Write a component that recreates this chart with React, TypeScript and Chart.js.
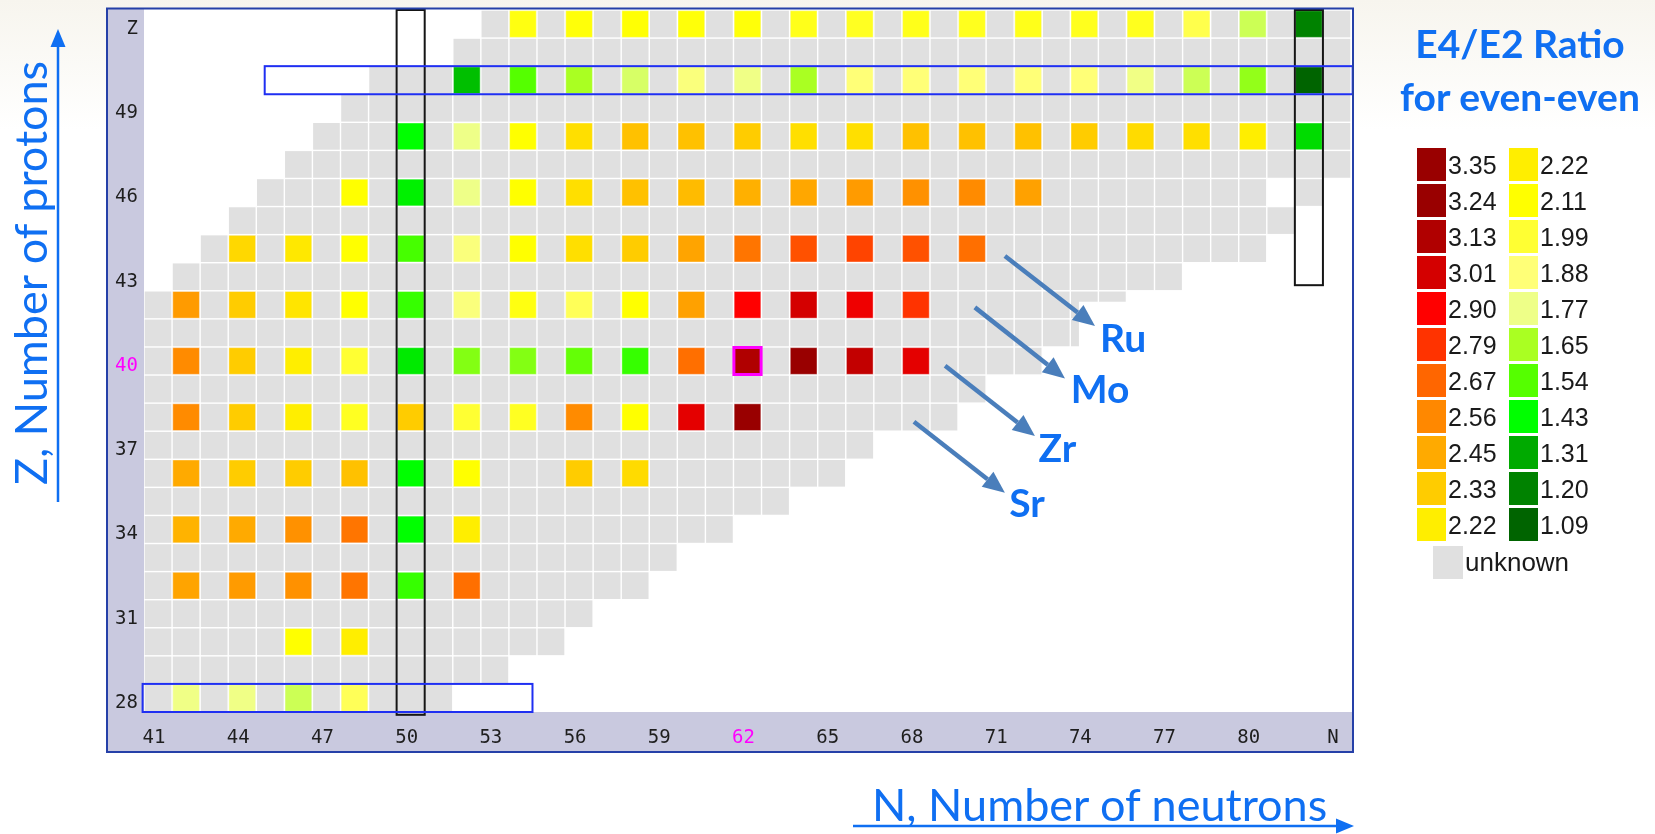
import React, { useEffect, useRef } from 'react';
import { Chart, registerables } from 'chart.js';

Chart.register(...registerables);

// ---------- axes ----------
const N_TICKS = [41, 44, 47, 50, 53, 56, 59, 62, 65, 68, 71, 74, 77, 80, 83];
const N_TICK_LABELS = ['41', '44', '47', '50', '53', '56', '59', '62', '65', '68', '71', '74', '77', '80', 'N'];
const Z_TICKS = [28, 31, 34, 37, 40, 43, 46, 49, 52];
const Z_TICK_LABELS = ['28', '31', '34', '37', '40', '43', '46', '49', 'Z'];
const N_MIN = 40.5;
const N_MAX = 83.5;
const Z_MIN = 27.5;
const Z_MAX = 52.5;
const MARKED_N = 62;
const MARKED_Z = 40;

// ---------- known nuclides: extent of each proton row ----------
const ROW_Z = [52, 51, 50, 49, 48, 47, 46, 45, 44, 43, 42, 41, 40, 39, 38, 37, 36, 35, 34, 33, 32, 31, 30, 29, 28];
const ROW_N_FIRST = [53, 52, 49, 48, 47, 46, 45, 44, 43, 42, 41, 41, 41, 41, 41, 41, 41, 41, 41, 41, 41, 41, 41, 41, 41];
const ROW_N_LAST = [83, 83, 83, 83, 83, 83, 80, 81, 80, 77, 75, 74, 72, 70, 69, 66, 65, 63, 61, 59, 58, 56, 55, 53, 51];
const EXTRA_CELL_N = [82];
const EXTRA_CELL_Z = [46];

// ---------- E4/E2 ratios of even-even nuclei ----------
const TE_N = [54, 56, 58, 60, 62, 64, 66, 68, 70, 72, 74, 76, 78, 80, 82];
const TE_R = [2.07, 2.09, 2.10, 2.09, 2.09, 2.05, 2.03, 2.05, 2.04, 2.05, 2.04, 2.04, 1.95, 1.71, 1.20];
const SN_N = [52, 54, 56, 58, 60, 62, 64, 66, 68, 70, 72, 74, 76, 78, 80, 82];
const SN_R = [1.34, 1.54, 1.65, 1.73, 1.85, 1.78, 1.65, 1.88, 1.88, 1.88, 1.88, 1.88, 1.79, 1.71, 1.62, 1.09];
const CD_N = [50, 52, 54, 56, 58, 60, 62, 64, 66, 68, 70, 72, 74, 76, 78, 80, 82];
const CD_R = [1.43, 1.77, 2.11, 2.27, 2.37, 2.37, 2.33, 2.27, 2.27, 2.37, 2.37, 2.37, 2.33, 2.28, 2.27, 2.22, 1.38];
const PD_N = [48, 50, 52, 54, 56, 58, 60, 62, 64, 66, 68, 70, 72];
const PD_R = [2.11, 1.41, 1.77, 2.11, 2.27, 2.37, 2.39, 2.43, 2.46, 2.50, 2.53, 2.55, 2.48];
const RU_N = [44, 46, 48, 50, 52, 54, 56, 58, 60, 62, 64, 66, 68, 70];
const RU_R = [2.29, 2.24, 2.11, 1.52, 1.85, 2.11, 2.27, 2.33, 2.47, 2.62, 2.72, 2.75, 2.72, 2.64];
const MO_N = [42, 44, 46, 48, 50, 52, 54, 56, 58, 60, 62, 64, 66, 68];
const MO_R = [2.50, 2.33, 2.25, 2.11, 1.50, 1.85, 2.07, 1.93, 2.11, 2.48, 2.90, 3.01, 2.94, 2.79];
const ZR_N = [42, 44, 46, 48, 50, 52, 54, 56, 58, 60, 62, 64, 66, 68];
const ZR_R = [2.55, 2.33, 2.22, 1.99, 1.40, 1.60, 1.60, 1.56, 1.50, 2.64, 3.13, 3.24, 3.07, 2.97];
const SR_N = [42, 44, 46, 48, 50, 52, 54, 56, 58, 60, 62];
const SR_R = [2.55, 2.33, 2.22, 2.03, 2.33, 1.99, 2.03, 2.55, 2.11, 2.97, 3.24];
const KR_N = [42, 44, 46, 48, 50, 52, 56, 58];
const KR_R = [2.45, 2.33, 2.33, 2.37, 1.43, 2.11, 2.33, 2.28];
const SE_N = [42, 44, 46, 48, 50, 52];
const SE_R = [2.42, 2.45, 2.53, 2.62, 1.43, 2.22];
const GE_N = [42, 44, 46, 48, 50, 52];
const GE_R = [2.47, 2.50, 2.53, 2.62, 1.50, 2.64];
const ZN_N = [46, 48];
const ZN_R = [2.11, 2.22];
const NI_N = [42, 44, 46, 48];
const NI_R = [1.78, 1.78, 1.71, 1.93];

const ELEMENT_Z = [52, 50, 48, 46, 44, 42, 40, 38, 36, 34, 32, 30, 28];
const ELEMENT_N = [TE_N, SN_N, CD_N, PD_N, RU_N, MO_N, ZR_N, SR_N, KR_N, SE_N, GE_N, ZN_N, NI_N];
const ELEMENT_R = [TE_R, SN_R, CD_R, PD_R, RU_R, MO_R, ZR_R, SR_R, KR_R, SE_R, GE_R, ZN_R, NI_R];

// ---------- colour scale / legend ----------
const SCALE_VALUES = [1.09, 1.20, 1.31, 1.43, 1.54, 1.65, 1.77, 1.88, 1.99, 2.11, 2.22, 2.33, 2.45, 2.56, 2.67, 2.79, 2.90, 3.01, 3.13, 3.24, 3.35];
const SCALE_COLORS = ['#006400', '#008200', '#00aa00', '#00ff00', '#55ff00', '#aaff22', '#eeff88', '#ffff77', '#ffff33', '#ffff00', '#ffee00', '#ffcc00', '#ffaa00', '#ff8800', '#ff6600', '#ff3300', '#ff0000', '#d40000', '#b00000', '#990000', '#990000'];
const LEGEND_LEFT = [3.35, 3.24, 3.13, 3.01, 2.90, 2.79, 2.67, 2.56, 2.45, 2.33, 2.22];
const LEGEND_RIGHT = [2.22, 2.11, 1.99, 1.88, 1.77, 1.65, 1.54, 1.43, 1.31, 1.20, 1.09];

// ---------- shell closures ----------
const MAGIC_N = [50, 82];
const MAGIC_N_ZTOP = [52.5, 52.5];
const MAGIC_N_ZBOTTOM = [27.4, 42.7];
const MAGIC_Z = [50, 28];
const MAGIC_Z_NFROM = [44.8, 40.45];
const MAGIC_Z_NTO = [83.56, 54.34];

// ---------- isotope-chain annotations ----------
const CHAIN_LABELS = ['Ru', 'Mo', 'Zr', 'Sr'];
const ARROW_FROM_N = [71.17, 70.10, 69.04, 67.93];
const ARROW_FROM_Z = [43.74, 41.91, 39.83, 37.84];
const ARROW_TO_N = [74.38, 73.31, 72.24, 71.17];
const ARROW_TO_Z = [41.25, 39.38, 37.33, 35.31];
const LABEL_N = [75.38, 74.56, 73.04, 71.96];
const LABEL_Z = [40.33, 38.49, 36.41, 34.44];

const TEXT_BLUE = '#0f6ff2';
const ARROW_BLUE = '#4a7ebb';
const LAVENDER = '#c9c9df';
const CELL_GRAY = '#e0e0e0';

function hexRgb(h: string) {
  return [parseInt(h.slice(1, 3), 16), parseInt(h.slice(3, 5), 16), parseInt(h.slice(5, 7), 16)];
}
function ratioColor(r: number) {
  const v = SCALE_VALUES;
  if (r <= v[0]) return SCALE_COLORS[0];
  for (let i = 1; i < v.length; i++) {
    if (r <= v[i]) {
      const t = (r - v[i - 1]) / (v[i] - v[i - 1]);
      const a = hexRgb(SCALE_COLORS[i - 1]);
      const b = hexRgb(SCALE_COLORS[i]);
      const c = a.map((x, k) => Math.round(x + (b[k] - x) * t));
      return `rgb(${c[0]},${c[1]},${c[2]})`;
    }
  }
  return SCALE_COLORS[SCALE_COLORS.length - 1];
}

export default function App() {
  const canvasRef = useRef<HTMLCanvasElement | null>(null);

  useEffect(() => {
    const canvas = canvasRef.current;
    if (!canvas) return;

    const grayPts: { x: number; y: number }[] = [];
    ROW_Z.forEach((z, i) => {
      for (let n = ROW_N_FIRST[i]; n <= ROW_N_LAST[i]; n++) grayPts.push({ x: n, y: z });
    });
    EXTRA_CELL_Z.forEach((z, i) => grayPts.push({ x: EXTRA_CELL_N[i], y: z }));

    const eePts: { x: number; y: number }[] = [];
    const eeColors: string[] = [];
    ELEMENT_Z.forEach((z, i) => {
      ELEMENT_N[i].forEach((n, j) => {
        eePts.push({ x: n, y: z });
        eeColors.push(ratioColor(ELEMENT_R[i][j]));
      });
    });

    const cellRadius = (frac: number) => (ctx: any) => {
      const sx = ctx.chart.scales.x;
      const p = Math.abs(sx.getPixelForValue(1) - sx.getPixelForValue(0));
      return (p * frac) / Math.SQRT2;
    };

    const framePlugin = {
      id: 'frame',
      beforeDraw(chart: any) {
        const { ctx, chartArea: a, scales } = chart;
        const x = scales.x;
        const y = scales.y;
        const L = y.left;
        const T = a.top - 1.5;
        const R = a.right + 2;
        const B = x.bottom;
        ctx.save();
        ctx.fillStyle = '#ffffff';
        ctx.fillRect(L, T, R - L, B - T);
        ctx.fillStyle = LAVENDER;
        ctx.fillRect(L, T, y.right - L, B - T);
        ctx.fillRect(L, x.top, R - L, B - x.top);
        ctx.restore();
      },
      afterDraw(chart: any) {
        const { ctx, chartArea: a, scales } = chart;
        const L = scales.y.left;
        const T = a.top - 1.5;
        const R = a.right + 2;
        const B = scales.x.bottom;
        ctx.save();
        ctx.strokeStyle = '#2540a8';
        ctx.lineWidth = 2;
        ctx.strokeRect(L, T, R - L, B - T);
        ctx.restore();
      },
    };

    const annotPlugin = {
      id: 'annot',
      afterDatasetsDraw(chart: any) {
        const { ctx, scales } = chart;
        const px = (n: number) => scales.x.getPixelForValue(n);
        const py = (z: number) => scales.y.getPixelForValue(z);
        ctx.save();
        ctx.lineWidth = 2;
        ctx.strokeStyle = '#151515';
        MAGIC_N.forEach((n, i) => {
          const l = px(n - 0.5);
          const r = px(n + 0.5);
          const t = py(MAGIC_N_ZTOP[i]);
          const b = py(MAGIC_N_ZBOTTOM[i]);
          ctx.strokeRect(l, t, r - l, b - t);
        });
        ctx.strokeStyle = '#1f2ff2';
        MAGIC_Z.forEach((z, i) => {
          const l = px(MAGIC_Z_NFROM[i]);
          const r = px(MAGIC_Z_NTO[i]);
          const t = py(z + 0.5);
          const b = py(z - 0.5);
          ctx.strokeRect(l, t, r - l, b - t);
        });

        ctx.font = 'bold 39px Lato';
        ctx.textAlign = 'center';
        ctx.textBaseline = 'alphabetic';
        // white label backgrounds
        CHAIN_LABELS.forEach((s, i) => {
          const cx = px(LABEL_N[i]);
          const by = py(LABEL_Z[i]);
          const m = ctx.measureText(s);
          const w = m.width;
          const asc = m.actualBoundingBoxAscent;
          ctx.fillStyle = '#ffffff';
          ctx.fillRect(cx - w / 2 - 21, by - asc - 22, w + 31, asc + 32);
        });
        // arrows
        ctx.strokeStyle = ARROW_BLUE;
        ctx.fillStyle = ARROW_BLUE;
        ctx.lineWidth = 4.5;
        CHAIN_LABELS.forEach((s, i) => {
          const x0 = px(ARROW_FROM_N[i]);
          const y0 = py(ARROW_FROM_Z[i]);
          const x1 = px(ARROW_TO_N[i]);
          const y1 = py(ARROW_TO_Z[i]);
          const ang = Math.atan2(y1 - y0, x1 - x0);
          const hl = 22;
          const hw = 9.5;
          const bx = x1 - hl * Math.cos(ang);
          const by = y1 - hl * Math.sin(ang);
          ctx.beginPath();
          ctx.moveTo(x0, y0);
          ctx.lineTo(bx, by);
          ctx.stroke();
          ctx.beginPath();
          ctx.moveTo(x1, y1);
          ctx.lineTo(bx + hw * Math.sin(ang), by - hw * Math.cos(ang));
          ctx.lineTo(bx - hw * Math.sin(ang), by + hw * Math.cos(ang));
          ctx.closePath();
          ctx.fill();
        });
        // labels
        ctx.fillStyle = TEXT_BLUE;
        CHAIN_LABELS.forEach((s, i) => {
          ctx.fillText(s, px(LABEL_N[i]), py(LABEL_Z[i]));
        });
        ctx.restore();
      },
    };

    const tickFont = { family: 'DejaVu Sans Mono', size: 19 };

    const chart = new Chart(canvas, {
      type: 'scatter',
      data: {
        datasets: [
          {
            label: 'unknown',
            data: grayPts,
            pointStyle: 'rect',
            pointRadius: cellRadius(0.95),
            pointBackgroundColor: CELL_GRAY,
            pointBorderWidth: 0,
            order: 3,
          } as any,
          {
            label: 'E4/E2',
            data: eePts,
            pointStyle: 'rect',
            pointRadius: cellRadius(0.95),
            pointBackgroundColor: eeColors,
            pointBorderColor: 'rgba(255,255,255,0.4)',
            pointBorderWidth: 1,
            order: 2,
          } as any,
          {
            label: 'marked',
            data: [{ x: MARKED_N, y: MARKED_Z }],
            pointStyle: 'rect',
            pointRadius: cellRadius(0.97),
            pointBackgroundColor: 'rgba(0,0,0,0)',
            pointBorderColor: '#ff00ff',
            pointBorderWidth: 3,
            order: 1,
          } as any,
        ],
      },
      options: {
        responsive: false,
        animation: false,
        devicePixelRatio: 1,
        events: [],
        layout: { padding: { left: 107, top: 10, right: 304, bottom: 82 } },
        plugins: { legend: { display: false }, tooltip: { enabled: false } },
        scales: {
          x: {
            type: 'linear',
            position: 'bottom',
            min: N_MIN,
            max: N_MAX,
            grid: { display: false, drawTicks: false },
            border: { display: false },
            afterBuildTicks: (s: any) => {
              s.ticks = N_TICKS.map((v) => ({ value: v }));
            },
            afterFit: (s: any) => {
              s.height = 40;
              s.paddingLeft = 0;
              s.paddingRight = 0;
            },
            ticks: {
              autoSkip: false,
              maxRotation: 0,
              minRotation: 0,
              padding: 15,
              labelOffset: -4,
              font: tickFont,
              color: (c: any) => (c.tick && c.tick.value === MARKED_N ? '#ff00ff' : '#1e1e1e'),
              callback: (_v: any, i: number) => N_TICK_LABELS[i],
            },
          },
          y: {
            type: 'linear',
            position: 'left',
            min: Z_MIN,
            max: Z_MAX,
            grid: { display: false, drawTicks: false },
            border: { display: false },
            afterBuildTicks: (s: any) => {
              s.ticks = Z_TICKS.map((v) => ({ value: v }));
            },
            afterFit: (s: any) => {
              s.width = 37;
              s.paddingTop = 0;
              s.paddingBottom = 0;
            },
            ticks: {
              autoSkip: false,
              padding: 6,
              labelOffset: 5,
              font: tickFont,
              color: (c: any) => (c.tick && c.tick.value === MARKED_Z ? '#ff00ff' : '#1e1e1e'),
              callback: (_v: any, i: number) => Z_TICK_LABELS[i],
            },
          },
        },
      } as any,
      plugins: [framePlugin, annotPlugin],
    });
    return () => chart.destroy();
  }, []);

  const legendRow = (vals: number[], boxLeft: number) =>
    vals.map((v, i) => (
      <div
        key={`${boxLeft}-${i}`}
        style={{ position: 'absolute', left: boxLeft, top: 148 + 36 * i, height: 33, display: 'flex', alignItems: 'center' }}
      >
        <div style={{ width: 29, height: 33, background: ratioColor(v) }} />
        <span style={{ marginLeft: 2, font: '25px "Liberation Sans", Arial, sans-serif', color: '#1a1a1a', lineHeight: '33px', paddingTop: 2 }}>
          {v.toFixed(2)}
        </span>
      </div>
    ));

  return (
    <div
      style={{
        position: 'absolute',
        left: 0,
        top: 0,
        width: 1655,
        height: 834,
        overflow: 'hidden',
        background: 'linear-gradient(#f7f5ee 0px, #ffffff 130px)',
      }}
    >
      <canvas ref={canvasRef} width={1655} height={834} style={{ position: 'absolute', left: 0, top: 0, width: 1655, height: 834 }} />

      {/* legend */}
      <div
        style={{
          position: 'absolute',
          left: 1380,
          top: 17,
          width: 280,
          textAlign: 'center',
          font: 'bold 39px Lato, sans-serif',
          lineHeight: '53px',
          color: TEXT_BLUE,
          whiteSpace: 'nowrap',
        }}
      >
        E4/E2 Ratio
        <br />
        for even-even
      </div>
      {legendRow(LEGEND_LEFT, 1417)}
      {legendRow(LEGEND_RIGHT, 1509)}
      <div style={{ position: 'absolute', left: 1433, top: 546, height: 33, display: 'flex', alignItems: 'center' }}>
        <div style={{ width: 30, height: 33, background: CELL_GRAY }} />
        <span style={{ marginLeft: 2, font: '26px "Liberation Sans", Arial, sans-serif', color: '#1a1a1a', lineHeight: '33px' }}>unknown</span>
      </div>

      {/* axis titles */}
      <div
        style={{
          position: 'absolute',
          left: 872,
          top: 777,
          font: '45px Lato, sans-serif',
          lineHeight: '54px',
          color: TEXT_BLUE,
          whiteSpace: 'nowrap',
        }}
      >
        N, Number of neutrons
      </div>
      <div
        style={{
          position: 'absolute',
          left: 30 - 250,
          top: 273 - 27,
          width: 500,
          height: 54,
          textAlign: 'center',
          font: '45px Lato, sans-serif',
          lineHeight: '54px',
          color: TEXT_BLUE,
          whiteSpace: 'nowrap',
          transform: 'rotate(-90deg)',
          transformOrigin: 'center',
        }}
      >
        Z, Number of protons
      </div>
      <svg width={1655} height={834} style={{ position: 'absolute', left: 0, top: 0, pointerEvents: 'none' }}>
        <line x1={853} y1={826} x2={1338} y2={826} stroke={TEXT_BLUE} strokeWidth={2.5} />
        <polygon points="1354,826 1336,818.5 1336,833.5" fill={TEXT_BLUE} />
        <line x1={58} y1={502} x2={58} y2={46} stroke={TEXT_BLUE} strokeWidth={2.5} />
        <polygon points="58,29 50.5,47 65.5,47" fill={TEXT_BLUE} />
      </svg>
    </div>
  );
}
